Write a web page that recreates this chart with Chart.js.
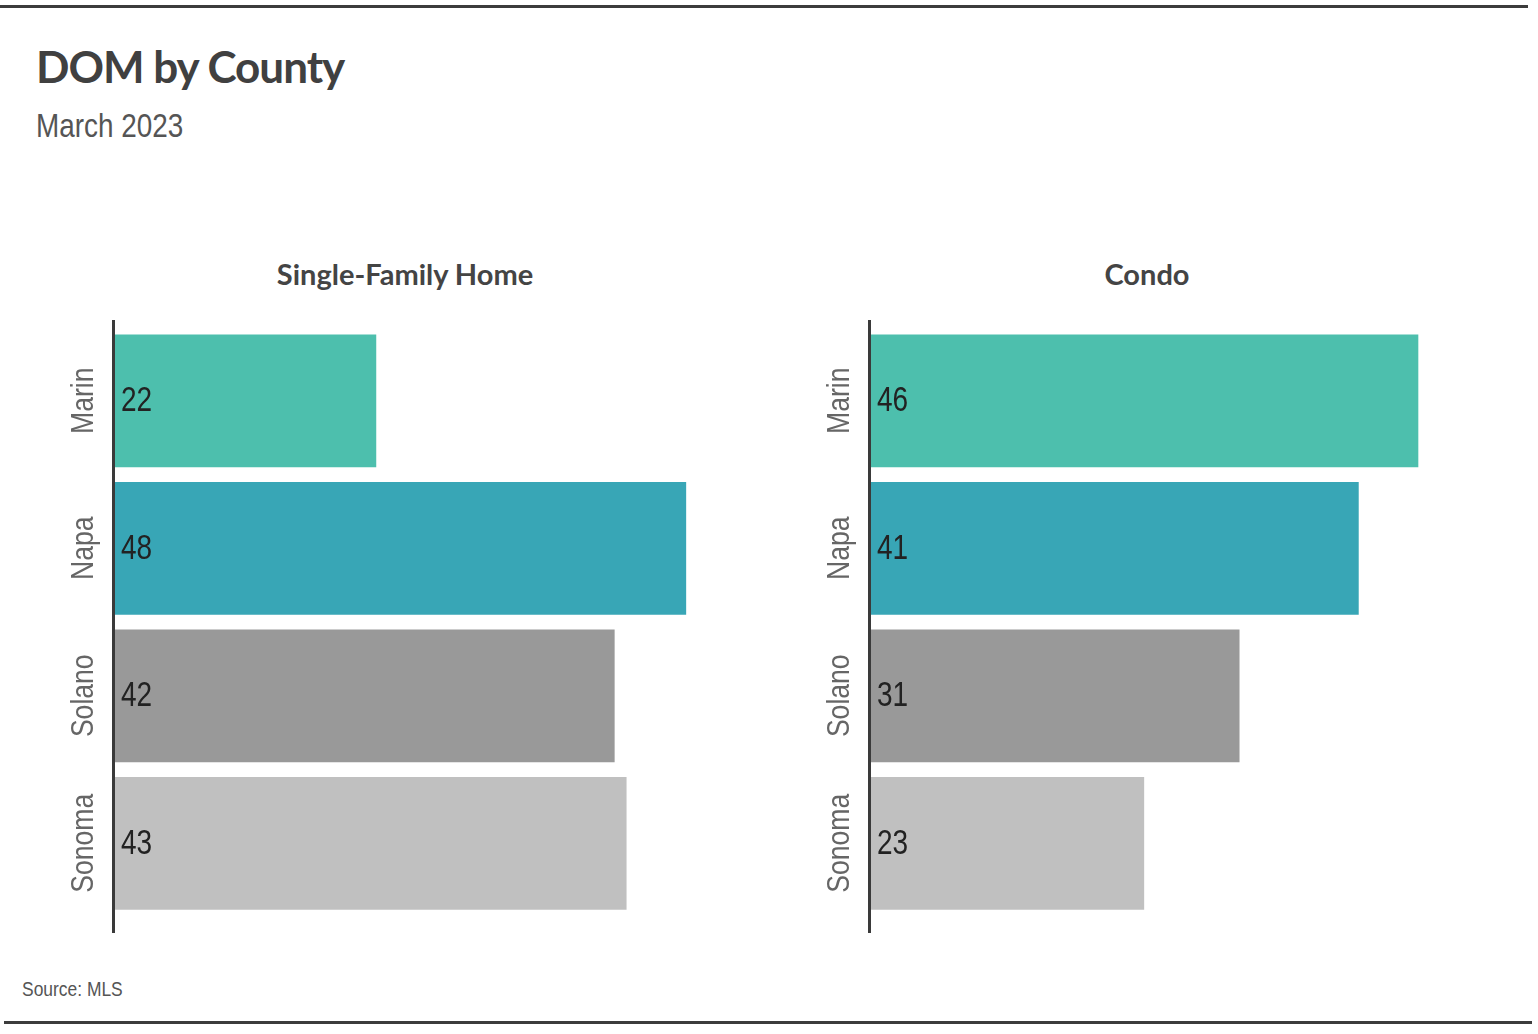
<!DOCTYPE html>
<html>
<head>
<meta charset="utf-8">
<script src="https://cdn.jsdelivr.net/npm/chart.js@4"></script>
<style>
body { margin:0; background:#fff; width:1538px; height:1034px; position:relative; overflow:hidden; }
.rule { position:absolute; left:0; width:1528px; height:3px; background:#3c3c3c; }
.txt { position:absolute; white-space:nowrap; }
#title { left:36px; top:40px; font:bold 44px Lato, sans-serif; color:#404040; letter-spacing:-1px; }
#sub { left:36px; top:106px; font:34px "Liberation Sans", sans-serif; color:#555; transform:scaleX(0.82); transform-origin:left top; }
.ctitle { top:256px; font:bold 29px Lato, sans-serif; color:#444; transform:translateX(-50%); }
#source { left:22px; top:977px; font:21px "Liberation Sans", sans-serif; color:#555; transform:scaleX(0.83); transform-origin:left top; }
.box { position:absolute; top:300px; width:720px; height:650px; }
</style>
</head>
<body>
<div class="rule" style="top:5px"></div>
<div class="rule" style="top:1021px; left:4px"></div>
<div id="title" class="txt">DOM by County</div>
<div id="sub" class="txt">March 2023</div>
<div class="txt ctitle" style="left:405px">Single-Family Home</div>
<div class="txt ctitle" style="left:1147px">Condo</div>
<div id="source" class="txt">Source: MLS</div>
<div class="box" style="left:40px"><canvas id="sfh"></canvas></div>
<div class="box" style="left:796px"><canvas id="condo"></canvas></div>
<script>
const counties = ["Marin", "Napa", "Solano", "Sonoma"];
const sfhDom = [22, 48, 42, 43];
const condoDom = [46, 41, 31, 23];
const barColors = ["#4dbfad", "#38a6b6", "#999999", "#c0c0c0"];
const xMax = 50;

// axis line, rotated county names and value labels (narrowed text)
const decor = {
  id: "decor",
  afterDatasetsDraw(chart) {
    const ctx = chart.ctx;
    const area = chart.chartArea;
    const y = chart.scales.y;
    ctx.save();
    ctx.strokeStyle = "#3a3a3a";
    ctx.lineWidth = 3;
    ctx.beginPath();
    ctx.moveTo(area.left - 0.5, area.top - 7);
    ctx.lineTo(area.left - 0.5, area.bottom + 16);
    ctx.stroke();

    ctx.font = "32px 'Liberation Sans', sans-serif";
    ctx.fillStyle = "#666";
    ctx.textAlign = "center";
    ctx.textBaseline = "alphabetic";
    chart.data.labels.forEach((lab, i) => {
      const py = y.getPixelForValue(i);
      ctx.save();
      ctx.translate(area.left - 21, py);
      ctx.rotate(-Math.PI / 2);
      ctx.scale(0.83, 1);
      ctx.fillText(lab, 0, 0);
      ctx.restore();
    });

    ctx.font = "35px 'Liberation Sans', sans-serif";
    ctx.fillStyle = "#222";
    ctx.textAlign = "left";
    ctx.textBaseline = "middle";
    const meta = chart.getDatasetMeta(0);
    meta.data.forEach((bar, i) => {
      ctx.save();
      ctx.translate(bar.base + 7, bar.y + 1);
      ctx.scale(0.8, 1);
      ctx.fillText(chart.data.datasets[0].data[i], 0, 0);
      ctx.restore();
    });
    ctx.restore();
  }
};

function makeChart(id, values) {
  return new Chart(document.getElementById(id), {
    type: "bar",
    data: {
      labels: counties,
      datasets: [{
        data: values,
        backgroundColor: barColors,
        borderWidth: 0,
        barPercentage: 0.9,
        categoryPercentage: 1
      }]
    },
    options: {
      indexAxis: "y",
      responsive: false,
      animation: false,
      devicePixelRatio: 1,
      layout: { padding: { top: 27, bottom: 33, right: 50, left: 0 } },
      plugins: { legend: { display: false }, tooltip: { enabled: false } },
      scales: {
        x: { display: false, min: 0, max: xMax },
        y: {
          grid: { display: false },
          border: { display: false },
          ticks: { display: false },
          afterFit: s => { s.width = 74; }
        }
      }
    },
    plugins: [decor]
  });
}

document.querySelectorAll("canvas").forEach(c => { c.width = 720; c.height = 650; });
makeChart("sfh", sfhDom);
makeChart("condo", condoDom);
</script>
</body>
</html>
